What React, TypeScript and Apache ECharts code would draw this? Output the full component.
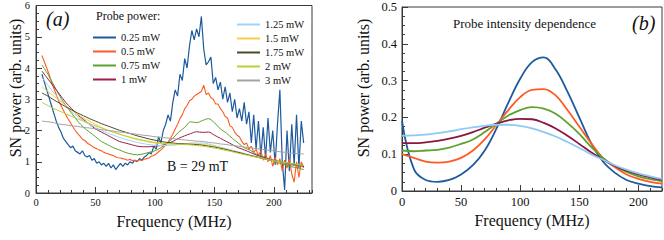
import React, { useEffect, useRef } from "react";
import * as echarts from "echarts";

// ---------- Panel (a) data ----------
// fine sampling grid (MHz) for the noisy curves: 5, 7, ..., 225
const freqFine: number[] = Array.from({ length: 111 }, (_, i) => 5 + 2 * i);
// coarse sampling grid (MHz) for the smoother curves: 5, 10, ..., 225
const freqCoarse: number[] = Array.from({ length: 45 }, (_, i) => 5 + 5 * i);

const p025: number[] = [
  3.8, 3.55, 3.3, 3.05, 2.8, 2.55, 2.3, 2.1, 1.95, 1.75,
  1.65, 1.55, 1.45, 1.5, 1.35, 1.3, 1.25, 1.35, 1.2, 1.15,
  1.2, 1.05, 1.1, 0.95, 1.0, 0.9, 0.95, 0.85, 0.95, 0.8,
  0.9, 0.75, 0.85, 0.95, 0.85, 0.95, 0.9, 1.0, 0.95, 1.05,
  1.0, 1.1, 1.05, 1.15, 1.2, 1.3, 1.25, 1.5, 1.4, 1.8,
  1.6, 2.0, 2.2, 2.5, 2.3, 2.9, 3.3, 3.1, 3.8, 3.6,
  4.3, 4.0, 4.7, 5.2, 4.9, 5.25, 5.0, 5.65, 4.6, 4.1,
  4.2, 4.35, 3.5, 3.7, 3.3, 3.55, 3.0, 3.4, 2.9, 3.2,
  2.6, 3.0, 2.4, 2.7, 2.3, 2.9, 2.2, 2.6, 1.6, 2.5,
  1.4, 2.3, 1.2, 2.1, 1.1, 2.4, 1.3, 2.0, 0.9, 2.2,
  3.3, 1.0, 0.1, 2.0, 0.7, 2.2, 0.9, 2.5, 0.8, 2.3,
  1.6,
];

const p05: number[] = [
  4.4, 4.2, 4.0, 3.8, 3.55, 3.35, 3.15, 2.95, 2.8, 2.65,
  2.5, 2.37, 2.25, 2.12, 2.0, 1.9, 1.82, 1.72, 1.68, 1.6,
  1.55, 1.5, 1.45, 1.42, 1.38, 1.35, 1.3, 1.27, 1.25, 1.22,
  1.2, 1.15, 1.13, 1.12, 1.1, 1.08, 1.05, 1.08, 1.03, 1.05,
  1.02, 1.06, 1.04, 1.08, 1.1, 1.12, 1.18, 1.2, 1.25, 1.32,
  1.38, 1.45, 1.55, 1.62, 1.75, 1.88, 2.05, 2.2, 2.38, 2.5,
  2.7, 2.8, 2.95, 3.0, 3.1, 3.15, 3.2, 3.25, 3.45, 3.15,
  3.2, 3.05, 3.0, 2.85, 2.85, 2.7, 2.6, 2.45, 2.4, 2.15,
  2.1, 1.95, 1.85, 1.8, 1.65, 1.55, 1.6, 1.4, 1.5, 1.3,
  1.4, 1.2, 1.35, 1.05, 1.25, 1.0, 1.2, 0.85, 1.15, 0.9,
  1.1, 0.7, 1.05, 0.8, 1.1, 0.6, 0.35, 1.0, 0.5, 1.0,
  0.8,
];

const p075: number[] = [
  4.1, 3.8, 3.45, 3.1, 2.8, 2.55, 2.3, 2.1, 1.95, 1.8,
  1.65, 1.55, 1.45, 1.38, 1.3, 1.25, 1.22, 1.25, 1.3, 1.35,
  1.45, 1.6, 1.75, 1.95, 2.1, 2.28, 2.25, 2.32, 2.38, 2.25,
  2.05, 1.92, 1.75, 1.6, 1.45, 1.37, 1.25, 1.18, 1.08, 1.02,
  0.95, 0.9, 0.84, 0.8, 0.75,
];
const p1: number[] = [
  3.9, 3.65, 3.4, 3.15, 2.9, 2.7, 2.5, 2.35, 2.2, 2.05,
  1.95, 1.85, 1.75, 1.65, 1.6, 1.55, 1.5, 1.48, 1.48, 1.5,
  1.52, 1.58, 1.65, 1.75, 1.83, 1.9, 1.96, 1.94, 1.95, 1.85,
  1.75, 1.65, 1.55, 1.45, 1.38, 1.3, 1.22, 1.15, 1.1, 1.05,
  1.0, 0.95, 0.9, 0.88, 0.85,
];
const p125: number[] = [
  3.7, 3.45, 3.2, 3.0, 2.8, 2.6, 2.45, 2.3, 2.2, 2.1,
  2.0, 1.92, 1.85, 1.78, 1.72, 1.67, 1.62, 1.58, 1.55, 1.53,
  1.52, 1.52, 1.53, 1.55, 1.57, 1.6, 1.6, 1.6, 1.57, 1.52,
  1.47, 1.42, 1.37, 1.32, 1.27, 1.22, 1.17, 1.12, 1.08, 1.04,
  1.0, 0.97, 0.93, 0.9, 0.88,
];
const p15: number[] = [
  3.4, 3.25, 3.1, 2.95, 2.8, 2.65, 2.52, 2.4, 2.3, 2.2,
  2.1, 2.02, 1.95, 1.88, 1.82, 1.76, 1.71, 1.67, 1.63, 1.6,
  1.58, 1.57, 1.57, 1.57, 1.58, 1.58, 1.57, 1.56, 1.53, 1.5,
  1.45, 1.4, 1.35, 1.3, 1.25, 1.2, 1.15, 1.1, 1.06, 1.02,
  0.98, 0.95, 0.92, 0.9, 0.88,
];
const p175: number[] = [
  3.2, 3.1, 2.98, 2.87, 2.76, 2.66, 2.56, 2.47, 2.38, 2.3,
  2.22, 2.15, 2.08, 2.01, 1.95, 1.89, 1.83, 1.78, 1.73, 1.69,
  1.65, 1.62, 1.6, 1.58, 1.57, 1.56, 1.55, 1.53, 1.5, 1.47,
  1.43, 1.39, 1.34, 1.3, 1.25, 1.2, 1.16, 1.11, 1.07, 1.03,
  1.0, 0.96, 0.93, 0.9, 0.88,
];
const p2: number[] = [
  2.9, 2.8, 2.7, 2.62, 2.53, 2.45, 2.37, 2.3, 2.22, 2.15,
  2.08, 2.01, 1.95, 1.89, 1.83, 1.78, 1.73, 1.69, 1.65, 1.62,
  1.6, 1.58, 1.57, 1.56, 1.55, 1.54, 1.52, 1.5, 1.47, 1.44,
  1.4, 1.36, 1.32, 1.27, 1.23, 1.19, 1.15, 1.11, 1.07, 1.03,
  1.0, 0.97, 0.94, 0.91, 0.88,
];
const p3: number[] = [
  2.3, 2.28, 2.25, 2.2, 2.18, 2.15, 2.13, 2.1, 2.08, 2.05,
  2.03, 2.0, 1.98, 1.95, 1.93, 1.9, 1.88, 1.85, 1.83, 1.8,
  1.78, 1.76, 1.74, 1.72, 1.7, 1.68, 1.66, 1.65, 1.62, 1.6,
  1.57, 1.55, 1.52, 1.5, 1.47, 1.45, 1.42, 1.4, 1.37, 1.35,
  1.32, 1.3, 1.28, 1.26, 1.25,
];

const namesA = ["0.25 mW", "0.5 mW", "0.75 mW", "1 mW", "1.25 mW", "1.5 mW", "1.75 mW", "2 mW", "3 mW"];
const colorsA = ["#1d5a9e", "#ff5a24", "#5ca22c", "#9c1f48", "#9fd4f8", "#f8cd45", "#4d4829", "#b8d232", "#a3a3a3"];

// ---------- Panel (b) data ----------
const freqB: number[] = [0, 10, 20, 30, 40, 50, 60, 70, 80, 90, 100, 110, 120, 130, 140, 150, 160, 170, 180, 190, 200, 210, 220];
const b1: number[] = [0.19, 0.06, 0.03, 0.025, 0.03, 0.045, 0.07, 0.11, 0.17, 0.24, 0.305, 0.35, 0.363, 0.33, 0.27, 0.2, 0.13, 0.08, 0.05, 0.03, 0.02, 0.013, 0.01];
const b2: number[] = [0.1, 0.09, 0.08, 0.077, 0.08, 0.09, 0.11, 0.14, 0.18, 0.22, 0.255, 0.275, 0.277, 0.26, 0.22, 0.175, 0.13, 0.09, 0.065, 0.045, 0.033, 0.025, 0.02];
const b3: number[] = [0.11, 0.108, 0.11, 0.112, 0.118, 0.128, 0.14, 0.16, 0.183, 0.205, 0.22, 0.228, 0.224, 0.21, 0.185, 0.155, 0.12, 0.09, 0.068, 0.052, 0.04, 0.032, 0.027];
const b4: number[] = [0.13, 0.13, 0.132, 0.136, 0.142, 0.15, 0.16, 0.172, 0.183, 0.192, 0.196, 0.195, 0.185, 0.17, 0.15, 0.128, 0.105, 0.085, 0.068, 0.055, 0.045, 0.037, 0.03];
const b5: number[] = [0.15, 0.151, 0.153, 0.157, 0.162, 0.168, 0.173, 0.177, 0.18, 0.18, 0.177, 0.17, 0.16, 0.148, 0.133, 0.117, 0.1, 0.085, 0.07, 0.058, 0.048, 0.04, 0.033];
const colorsB = ["#1d5a9e", "#ff5a24", "#5ca22c", "#8a1740", "#8ccaf5"];

const FONT = "'Liberation Serif', 'Times New Roman', 'DejaVu Serif', serif";
const FRAME = "#3a3a3a";

function zip(xs: number[], ys: number[]): [number, number][] {
  return ys.map((y, i) => [xs[i], y]);
}

export default function App() {
  const ref = useRef<HTMLDivElement>(null);
  useEffect(() => {
    document.body.style.margin = "0";
    if (!ref.current) return;
    const chart = echarts.init(ref.current, null, { renderer: "svg" });

    const minorX = (gridIndex: number, max: number) => ({
      type: "value", gridIndex, position: "bottom", min: 0, max, interval: 10,
      axisLine: { show: false }, axisLabel: { show: false }, splitLine: { show: false },
      axisTick: { inside: true, length: 3, lineStyle: { color: FRAME } },
    });
    const majorX = (gridIndex: number, max: number, fs: number) => ({
      type: "value", gridIndex, position: "bottom", min: 0, max, interval: 50,
      name: "Frequency (MHz)", nameLocation: "middle", nameGap: 20,
      nameTextStyle: { fontFamily: FONT, fontSize: 16, color: "#111" },
      axisLine: { lineStyle: { color: FRAME } },
      axisTick: { inside: true, length: 6, lineStyle: { color: FRAME } },
      axisLabel: { fontFamily: FONT, fontSize: fs, color: "#111", margin: 4, showMaxLabel: false },
      splitLine: { show: false },
    });

    const seriesA = [
      { name: namesA[0], data: zip(freqFine, p025), lw: 1.2 },
      { name: namesA[1], data: zip(freqFine, p05), lw: 1.1 },
      { name: namesA[2], data: zip(freqCoarse, p075), lw: 1 },
      { name: namesA[3], data: zip(freqCoarse, p1), lw: 1 },
      { name: namesA[4], data: zip(freqCoarse, p125), lw: 1 },
      { name: namesA[5], data: zip(freqCoarse, p15), lw: 1 },
      { name: namesA[6], data: zip(freqCoarse, p175), lw: 1 },
      { name: namesA[7], data: zip(freqCoarse, p2), lw: 1 },
      { name: namesA[8], data: zip(freqCoarse, p3), lw: 1 },
    ].map((s, i) => ({
      type: "line", name: s.name, xAxisIndex: 1, yAxisIndex: 0, data: s.data,
      showSymbol: false, smooth: i >= 2 ? 0.3 : false,
      lineStyle: { width: s.lw, color: colorsA[i] }, itemStyle: { color: colorsA[i] },
    }));

    const seriesB = [b1, b2, b3, b4, b5].map((d, i) => ({
      type: "line", name: "b" + i, xAxisIndex: 3, yAxisIndex: 1, data: zip(freqB, d),
      showSymbol: false, smooth: 0.4,
      lineStyle: { width: 1.8, color: colorsB[i] },
    }));

    const legendCommon = {
      orient: "vertical", icon: "rect", itemWidth: 23, itemHeight: 2, itemGap: 3,
      textStyle: { fontFamily: FONT, fontSize: 10.5, color: "#111" },
      selectedMode: false,
    };

    chart.setOption({
      animation: false,
      backgroundColor: "#fff",
      grid: [
        { left: 36, top: 5, width: 276, height: 188, show: true, borderColor: FRAME, borderWidth: 1, backgroundColor: "transparent" },
        { left: 402, top: 7, width: 260, height: 184, show: true, borderColor: FRAME, borderWidth: 1, backgroundColor: "transparent" },
      ],
      xAxis: [minorX(0, 232), majorX(0, 232, 10.5), minorX(1, 220), majorX(1, 220, 12.5)],
      yAxis: [
        {
          type: "value", gridIndex: 0, min: 0, max: 6, interval: 1,
          axisLine: { lineStyle: { color: FRAME } },
          axisTick: { inside: true, length: 6, lineStyle: { color: FRAME } },
          minorTick: { show: true, splitNumber: 4, length: 3, lineStyle: { color: FRAME } },
          axisLabel: { fontFamily: FONT, fontSize: 10.5, color: "#111", margin: 6 },
          splitLine: { show: false },
        },
        {
          type: "value", gridIndex: 1, min: 0, max: 0.5, interval: 0.1,
          axisLine: { lineStyle: { color: FRAME } },
          axisTick: { inside: true, length: 6, lineStyle: { color: FRAME } },
          minorTick: { show: true, splitNumber: 4, length: 3, lineStyle: { color: FRAME } },
          axisLabel: { fontFamily: FONT, fontSize: 12.5, color: "#111", margin: 5 },
          splitLine: { show: false },
        },
      ],
      legend: [
        { ...legendCommon, data: namesA.slice(0, 4), left: 88, top: 27 },
        { ...legendCommon, data: namesA.slice(4), left: 232, top: 14 },
      ],
      graphic: [
        { type: "text", left: 46, top: 9, style: { text: "(a)", font: `italic 20px ${FONT}`, fill: "#111" } },
        { type: "text", left: 96, top: 10, style: { text: "Probe power:", font: `12px ${FONT}`, fill: "#111" } },
        { type: "text", left: 167, top: 159, style: { text: "B = 29 mT", font: `14px ${FONT}`, fill: "#111" } },
        { type: "text", left: 453, top: 17, style: { text: "Probe intensity dependence", font: `13px ${FONT}`, fill: "#111" } },
        { type: "text", left: 632, top: 13, style: { text: "(b)", font: `italic 20px ${FONT}`, fill: "#111" } },
        {
          type: "text", x: 15, y: 88, rotation: Math.PI / 2,
          style: { text: "SN power (arb. units)", font: `16px ${FONT}`, fill: "#111", align: "center", verticalAlign: "middle" },
        },
        {
          type: "text", x: 363, y: 88, rotation: Math.PI / 2,
          style: { text: "SN power (arb. units)", font: `16px ${FONT}`, fill: "#111", align: "center", verticalAlign: "middle" },
        },
      ],
      series: [...seriesA, ...seriesB],
    });

    return () => chart.dispose();
  }, []);

  return <div ref={ref} style={{ width: 664, height: 240 }} />;
}
